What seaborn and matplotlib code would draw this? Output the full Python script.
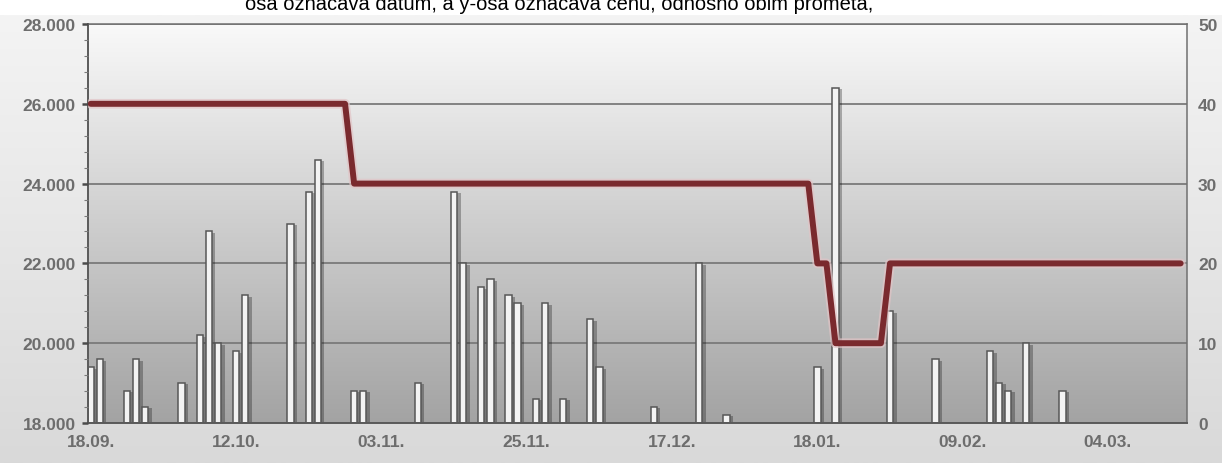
import numpy as np
import matplotlib
matplotlib.use("Agg")
import matplotlib.pyplot as plt
import matplotlib.patheffects as pe
from matplotlib.colors import LinearSegmentedColormap
from matplotlib.ticker import MultipleLocator, FixedLocator, FuncFormatter
import seaborn as sns

# x axis = trading-session index, a date label every 16 sessions
tick_days = [0, 16, 32, 48, 64, 80, 96, 112]
tick_labels = ["18.09.", "12.10.", "03.11.", "25.11.", "17.12.", "18.01.", "09.02.", "04.03."]

# traded volume (right axis)
volume_days = [0, 1, 4, 5, 6, 10, 12, 13, 14, 16, 17, 22, 24, 25, 29, 30, 36, 40, 41, 43,
               44, 46, 47, 49, 50, 52, 55, 56, 62, 67, 70, 80, 82, 88, 93, 99, 100, 101, 103, 107]
volume = [7, 8, 4, 8, 2, 5, 11, 24, 10, 9, 16, 25, 29, 33, 4, 4, 5, 29, 20, 17,
          18, 16, 15, 3, 15, 3, 13, 7, 2, 20, 1, 7, 42, 14, 8, 9, 5, 4, 10, 4]

# price (left axis), one value per session
price = [26000] * 29 + [24000] * 51 + [22000] * 2 + [20000] * 6 + [22000] * 33
price_days = list(range(len(price)))

caption = "osa označava datum, a y-osa označava cenu, odnosno obim prometa,"

sns.set_style("white")
plt.rcParams["font.family"] = ["Liberation Sans", "DejaVu Sans"]

W, H = 1222, 464
fig = plt.figure(figsize=(W / 100, H / 100), dpi=100)
fig.patch.set_facecolor("white")

# page background behind the chart (starts a bit below the top edge)
bg = fig.add_axes([0, 0, 1, 1 - 16 / H], zorder=-3)
bg_cmap = LinearSegmentedColormap.from_list("bg", ["#d9d9d9", "#f4f4f4"])
bg.imshow(np.linspace(1, 0, 256).reshape(-1, 1), cmap=bg_cmap, aspect="auto",
          extent=[0, 1, 0, 1], vmin=0, vmax=1)
bg.axis("off")

rect = [88 / W, 1 - 424 / H, (1187 - 88) / W, (424 - 25) / H]

# plot-area gradient
pbg = fig.add_axes(rect, zorder=-2)
p_cmap = LinearSegmentedColormap.from_list("pbg", ["#a3a3a3", "#f9f9f9"])
pbg.imshow(np.linspace(1, 0, 256).reshape(-1, 1), cmap=p_cmap, aspect="auto",
           extent=[0, 1, 0, 1], vmin=0, vmax=1)
pbg.axis("off")

ax_vol = fig.add_axes(rect, zorder=0)
ax_vol.patch.set_visible(False)
ax_price = ax_vol.twinx()
ax_price.set_zorder(1)
ax_price.patch.set_visible(False)

# volume bars
sns.barplot(x=volume_days, y=volume, native_scale=True, width=0.7, ax=ax_vol,
            color="#f3f3f3", saturation=1, edgecolor="#575757", linewidth=1.1,
            errorbar=None)
for bar in ax_vol.patches:
    bar.set_path_effects([pe.SimplePatchShadow(offset=(2.5, -1), shadow_rgbFace="black", alpha=0.28),
                          pe.Normal()])

# price line
sns.lineplot(x=price_days, y=price, ax=ax_price, color="#7a2a2e", linewidth=4.3,
             path_effects=[pe.Stroke(linewidth=7, foreground="#e2c4c6", alpha=0.7), pe.Normal()])

for a in (ax_vol, ax_price):
    a.set_xlim(-0.3, 120.7)
    a.set_xlabel("")
    a.set_ylabel("")

ax_vol.set_ylim(0, 50)
ax_vol.yaxis.set_major_locator(MultipleLocator(10))
ax_vol.yaxis.tick_right()
ax_vol.grid(axis="y", color="#7a7a7a", linewidth=1.3)
ax_vol.grid(axis="x", visible=False)
ax_vol.set_axisbelow(True)

ax_price.set_ylim(18000, 28000)
ax_price.yaxis.tick_left()
ax_price.yaxis.set_major_locator(MultipleLocator(2000))
ax_price.yaxis.set_minor_locator(MultipleLocator(400))
ax_price.yaxis.set_major_formatter(FuncFormatter(lambda v, p: f"{v / 1000:.3f}"))

ax_vol.xaxis.set_major_locator(FixedLocator(tick_days))
ax_vol.set_xticklabels(tick_labels)
ax_vol.xaxis.set_minor_locator(MultipleLocator(2))

label_kw = dict(labelsize=12.5, labelcolor="#6d6d6d")
ax_vol.tick_params(axis="x", which="major", direction="out", length=4, width=2,
                   color="#4a4a4a", pad=4, **label_kw)
ax_vol.tick_params(axis="x", which="minor", direction="out", length=2, width=0.7, color="#8a8a8a")
ax_vol.tick_params(axis="y", which="both", length=0, pad=8, **label_kw)
ax_price.tick_params(axis="y", which="major", direction="out", length=4, width=1.8,
                     color="#4a4a4a", pad=5, **label_kw)
ax_price.tick_params(axis="y", which="minor", direction="out", length=3, width=0.8, color="#7a7a7a")
ax_price.tick_params(axis="x", which="both", length=0, labelbottom=False)

for lab in ax_vol.get_xticklabels() + ax_vol.get_yticklabels() + ax_price.get_yticklabels():
    lab.set_fontweight("bold")

for name, sp in ax_vol.spines.items():
    sp.set_visible(True)
    sp.set_color("#5a5a5a" if name in ("left", "bottom") else "#707070")
    sp.set_linewidth(1.4 if name in ("left", "bottom") else 1.1)
for sp in ax_price.spines.values():
    sp.set_visible(False)

# caption line of the surrounding page, cropped at the top as in the source image
fig.text(245 / W, 1 - 10 / H, caption, fontsize=14.5, color="black", ha="left", va="baseline")

fig.savefig("out.png", dpi=100)
